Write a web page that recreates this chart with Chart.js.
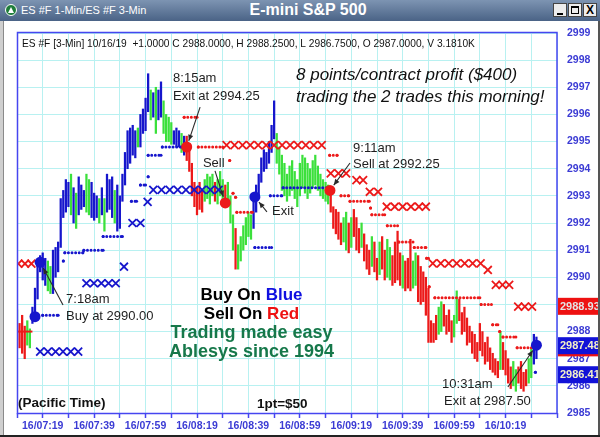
<!DOCTYPE html>
<html>
<head>
<meta charset="utf-8">
<script src="https://cdn.jsdelivr.net/npm/chart.js@4.4.0/dist/chart.umd.min.js"></script>
<style>
html,body{margin:0;padding:0;background:#fff;overflow:hidden;}
#win{position:relative;width:600px;height:437px;background:#fff;overflow:hidden;font-family:"Liberation Sans",Arial,sans-serif;}
#chart{position:absolute;left:0;top:0;}
#title{position:absolute;left:0;top:0;width:600px;height:21px;background:linear-gradient(#7d94b2,#4a6386);color:#fff;}
#title .left{position:absolute;left:21px;top:4px;font-size:11px;}
#title .center{position:absolute;left:0;width:600px;top:1px;text-align:center;font-size:16px;font-weight:bold;padding-left:16px;box-sizing:border-box;}
#icon{position:absolute;left:5px;top:4px;width:12px;height:12px;border-radius:50%;background:#1e7d3a;border:1px solid #fff;box-sizing:border-box;}
#icon:after{content:"";position:absolute;left:2px;top:2px;border-left:3px solid transparent;border-right:3px solid transparent;border-bottom:6px solid #fff;}
.btn{position:absolute;top:3px;width:14px;height:14px;background:#ececec;border:1px solid #444;box-sizing:border-box;color:#000;}
.btn.min:after{content:"";position:absolute;left:3px;top:9px;width:6px;height:2px;background:#000;}
.btn.max:after{content:"";position:absolute;left:2px;top:2px;width:8px;height:8px;border:1px solid #000;border-top-width:2px;box-sizing:border-box;}
.btn.cls{font:bold 12px "Liberation Sans",Arial,sans-serif;line-height:12px;text-align:center;}
#edgeL{position:absolute;left:0;top:21px;width:3px;height:416px;background:#cfcfcf;border-right:1px solid #8a8a8a;}
#edgeB{position:absolute;left:0;top:435px;width:600px;height:2px;background:#222;}
#edgeR{position:absolute;left:598px;top:21px;width:2px;height:416px;background:#555;}
</style>
</head>
<body>
<div id="win">
  <canvas id="chart" width="600" height="437"></canvas>
  <div id="title">
    <div id="icon"></div>
    <div class="left">ES #F 1-Min/ES #F 3-Min</div>
    <div class="center">E-mini S&amp;P 500</div>
    <div class="btn min" style="left:553px"></div>
    <div class="btn max" style="left:568px"></div>
    <div class="btn cls" style="left:583px">X</div>
  </div>
  <div id="edgeL"></div>
  <div id="edgeR"></div>
  <div id="edgeB"></div>
</div>
<script>
// ---------- DATA ----------
// time axis: minutes after midnight (Pacific). first 1-min bar at 07:09
const barStart = 429;
const barHigh = [
 2988.8,2988.3,2988.6,2988.2,2988.4,2988.1, 2988.9,2989.6,2990.5,2990.8,2990.9,2990.7,
 2990.6,2990.4,2991.0,2991.1,2991.3,2992.9, 2993.2,2993.6,2993.5,2993.8,2993.3,2993.1,
 2993.7,2993.4,2993.2,2993.8,2993.6,2993.5, 2993.1,2993.0,2992.9,2993.3,2992.9,2993.8,
 2993.6,2993.7,2993.2,2993.4,2993.0,2993.8, 2994.6,2995.4,2995.5,2995.6,2995.4,2995.5,
 2996.0,2996.2,2996.6,2997.5,2996.9,2996.8, 2997.0,2996.9,2997.2,2996.5,2996.0,2995.9,
 2995.7,2995.4,2995.5,2995.4,2995.3,2995.2, 2995.2,2994.9,2994.2,2993.5,2993.3,2993.5,
 2993.2,2993.6,2993.8,2993.7,2993.8,2993.5, 2993.6,2993.9,2993.6,2993.4,2993.5,2993.0,
 2992.3,2991.8,2991.2,2991.5,2991.9,2992.2, 2992.4,2992.3,2993.0,2993.4,2993.8,2994.4,
 2994.7,2994.6,2995.0,2995.6,2996.5,2995.3, 2994.8,2994.5,2994.2,2993.8,2994.1,2994.3,
 2993.9,2993.6,2994.2,2994.5,2994.4,2994.2, 2994.0,2994.3,2994.5,2994.1,2993.8,2993.6,
 2993.5,2993.4,2993.2,2992.6,2992.5,2992.4, 2992.0,2992.2,2992.4,2992.0,2992.2,2992.5,
 2992.2,2991.8,2992.0,2991.6,2991.2,2991.0, 2991.5,2991.3,2990.7,2991.3,2991.5,2991.0,
 2991.4,2991.1,2990.8,2991.3,2991.7,2990.9, 2990.8,2990.6,2990.7,2991.4,2990.6,2990.9,
 2990.8,2990.4,2990.2,2990.0,2989.6,2988.4, 2988.3,2988.6,2988.9,2989.1,2989.0,2988.6,
 2988.8,2988.4,2988.6,2989.5,2989.2,2988.7, 2988.9,2988.5,2988.2,2988.0,2987.9,2987.6,
 2988.3,2988.0,2987.6,2987.8,2987.4,2987.2, 2987.0,2986.9,2988.0,2987.6,2987.3,2987.0,
 2986.7,2986.9,2986.6,2986.7,2986.9,2986.5, 2986.6,2987.0,2987.4,2987.9,2987.8
];
const barLow = [
 2987.7,2987.4,2987.2,2987.0,2987.5,2987.4, 2988.3,2988.6,2989.2,2990.2,2989.9,2989.7,
 2989.5,2989.4,2989.4,2990.0,2990.2,2991.1, 2992.2,2992.4,2992.6,2992.3,2992.0,2991.8,
 2992.3,2992.5,2992.6,2992.4,2992.3,2992.2, 2992.1,2992.2,2992.0,2992.3,2991.7,2992.4,
 2992.5,2992.2,2992.0,2991.7,2991.8,2992.8, 2993.4,2994.0,2994.2,2994.5,2994.4,2994.8,
 2994.8,2995.3,2995.4,2996.1,2995.8,2995.9, 2995.3,2995.8,2995.9,2995.3,2995.0,2995.0,
 2994.9,2994.9,2994.8,2994.8,2994.6,2994.5, 2994.3,2993.9,2993.0,2992.6,2992.3,2992.5,
 2992.4,2992.8,2992.9,2992.7,2993.0,2992.8, 2992.7,2993.0,2992.8,2992.7,2992.6,2992.0,
 2991.0,2990.3,2990.3,2990.6,2991.0,2991.2, 2991.5,2991.4,2991.8,2992.4,2993.0,2993.5,
 2993.9,2994.0,2994.2,2994.6,2995.1,2994.2, 2993.8,2993.2,2993.0,2992.8,2993.0,2993.2,
 2992.9,2992.6,2993.0,2993.3,2993.1,2992.9, 2993.1,2993.3,2993.4,2993.2,2993.0,2992.9,
 2992.8,2992.7,2992.4,2991.8,2991.6,2991.4, 2991.2,2991.3,2991.0,2990.9,2991.1,2991.5,
 2991.0,2990.9,2991.1,2990.6,2990.3,2990.1, 2990.4,2990.2,2989.9,2990.1,2990.3,2989.9,
 2990.0,2989.9,2989.7,2989.8,2989.9,2989.7, 2989.6,2989.5,2989.6,2989.5,2989.6,2989.7,
 2989.1,2989.0,2989.1,2988.6,2987.6,2987.6, 2987.6,2987.7,2987.9,2988.0,2988.2,2987.9,
 2988.0,2987.6,2987.8,2988.3,2988.4,2987.9, 2988.0,2987.5,2987.6,2987.2,2987.0,2986.9,
 2987.3,2987.1,2986.8,2986.9,2986.6,2986.5, 2986.4,2986.3,2986.6,2986.6,2986.4,2986.1,
 2985.9,2986.0,2985.8,2986.1,2985.9,2985.8, 2986.0,2986.1,2986.3,2986.8,2987.0
];
// b = buy (blue), g = neutral (green), r = sell (red)
const barColor = [
 "grrrgg","bbbbbb","gg","bbbbbbb","g","b","g","bbb","gg","bbb","g","b","g","bbb","g",
 "bbbbbbbb","g","bbbb","g","b","g","bb","gggg","bbb","g","b","rrrrrrr","gggg","r","ggg",
 "r","ggg","r","gggggg","bbbbbbbbb","ggggggggggggggggggggg","rrrrr","gg","r","g","rrr",
 "g","rrr","g","rr","g","rr","gg","rrrr","g","rrr","gg","rrrrrrrr","gg","rrrr","gg",
 "rrrrrrrrrrrrrrrr","g","rrrr","gg","rrrr","gg","bb"
].join("").split("");

// trailing stop dot rows: [from minute, to minute, price]
const blueStops = [
 [439,445,2988.6],[447,447,2990.6],[447.6,454.6,2990.9],[455,462.5,2991.0],[462.5,470,2991.5],
 [473.5,475.5,2992.8],[477,479,2993.4],[480,480,2993.7],[480,485,2994.5],[485.5,493,2994.8],
 [521.5,528,2991.1],[527.5,532,2993.0],[532.5,550,2993.3],[630.6,630.6,2986.5]
];
const redStops = [
 [494,499,2995.9],[499.5,509,2994.8],[511.7,511.7,2994.3],[513,513,2993.1],[514,514,2992.95],
 [514.5,520.5,2992.4],[550.6,553.5,2994.5],[555,558,2993.0],[558.5,566,2992.8],[566.5,566.5,2992.55],
 [567,572,2992.3],[573,577,2991.9],[577.5,583,2991.3],[583.5,588,2991.1],[588.3,589,2990.7],
 [589.3,589.3,2989.65],[591.5,609,2989.25],[609.5,613.5,2989.0],[614,616,2988.25],[616.7,616.7,2988.0],
 [618,623,2987.8],[623.5,629,2987.4]
];
const redLevelLine = [[429,2988.0],[435,2988.0]];

// X markers: [minute, price]
const blueX = [
 [438,2987.26],[441,2987.26],[444,2987.26],[446.9,2987.26],[449.9,2987.26],[452.8,2987.26],
 [456,2989.78],[458.9,2989.78],[461.8,2989.78],[464.6,2989.78],[467.4,2989.78],
 [470.6,2990.39],[473.9,2992.0],[477,2992.0],[479.8,2992.78],
 [482,2993.22],[485.2,2993.22],[488.4,2993.22],[491.5,2993.22],[494.7,2993.22],
 [497.9,2993.22],[501,2993.22],[504.2,2993.22],[507.4,2993.22]
];
const redX = [
 [429.5,2990.5],[432.1,2990.5],[434.6,2990.5],
 [510.5,2994.87],[513.6,2994.87],[516.7,2994.87],[519.7,2994.87],[522.8,2994.87],[525.9,2994.87],
 [529,2994.87],[532.1,2994.87],[535.2,2994.87],[538.2,2994.87],[541.3,2994.87],[544.4,2994.87],[547.5,2994.87],
 [551,2993.83],[554,2993.83],[557,2993.83],[561,2993.58],[563.6,2993.58],[566.2,2993.15],[569.4,2993.15],
 [572.8,2992.6],[575.9,2992.6],[579,2992.6],[582.2,2992.6],[585.3,2992.6],[588,2992.6],
 [590.7,2990.51],[593.8,2990.51],[596.9,2990.51],[600,2990.51],[603.1,2990.51],[606.2,2990.51],[609.3,2990.51],
 [612.1,2990.27],[615.2,2989.72],[617.8,2989.72],[620.4,2989.72],
 [623.9,2988.92],[626.5,2988.92],[629.3,2988.92]
];
// trade signal dots: [minute, price, colour]
const signalDots = [
 [436,2988.55,"b"],[438,2990.55,"b"],[495,2994.8,"r"],[510,2992.74,"r"],
 [521.5,2992.96,"b"],[550.7,2993.2,"r"],[631,2987.5,"b"]
];
// price tags on the right axis
const priceTags = [[2988.93,"r"],[2987.40,"r"],[2987.48,"b"],[2986.41,"b"]];

// axis ticks
const xTickMinutes = [429,439,449,459,469,479,489,499,509,519,529,539,549,559,569,579,589,599,609,619,629,639];
const xLabelMinutes = [439,459,479,499,519,539,559,579,599,619];
const xLabelText = ["16/07:19","16/07:39","16/07:59","16/08:19","16/08:39","16/08:59","16/09:19","16/09:39","16/09:59","16/10:19"];
const yMin = 2985, yMax = 2999;

// annotation texts: [text, minute, price]
const notes = [
 ["7:18am",448.1,2989.20],["Buy at 2990.00",448.1,2988.57],
 ["8:15am",489.7,2997.34],["Exit at 2994.25",489.7,2996.68],
 ["Sell",501.3,2994.21],["Exit",528.2,2992.41],
 ["9:11am",559.7,2994.76],["Sell at 2992.25",559.7,2994.14],
 ["10:31am",594.3,2986.07],["Exit at 2987.50",595.1,2985.44]
];
// arrows: [from minute, from price, to minute, to price]
const arrows = [
 [446.9,2988.98,438,2990.55],[500.2,2996.27,495,2994.8],[506.0,2993.92,510,2992.74],
 [526.2,2992.41,521.5,2992.96],[558.5,2994.21,550.7,2993.2],[619.9,2985.96,631,2987.5]
];
const headerText = "ES #F [3-Min] 10/16/19  +1.0000 C 2988.0000, H 2988.2500, L 2986.7500, O 2987.0000, V 3.1810K";

// ---------- STYLE ----------
const COL = {b:"#1616cc", g:"#3be03b", r:"#ec1a1a"};
const FRAME = "#4646f0";
const AXIS_TXT = "#3b3bd4";
const GRID = "#b8f1f1";
const FONT = '"Liberation Sans", Arial, sans-serif';

function stopsData(stops){
  const d = [];
  stops.forEach(s => { d.push({x:s[0],y:s[2]},{x:s[1],y:s[2]},{x:s[1]+0.01,y:null}); });
  return d;
}
const pts = arr => arr.map(p => ({x:p[0], y:p[1]}));

const datasets = [
 {type:"line", data: signalDots.map(p=>({x:p[0],y:p[1]})), showLine:false, pointRadius:5.5,
  pointBackgroundColor: signalDots.map(p=>COL[p[2]]), pointBorderWidth:0, order:-2},
 {type:"line", data: pts(blueX), showLine:false, pointStyle:"crossRot", pointRadius:5.6,
  pointBorderColor:COL.b, pointBorderWidth:1.8, order:-1},
 {type:"line", data: pts(redX), showLine:false, pointStyle:"crossRot", pointRadius:5.6,
  pointBorderColor:COL.r, pointBorderWidth:1.8, order:-1},
 {type:"line", data: stopsData(blueStops), borderColor:COL.b, borderWidth:3, borderDash:[0,3.6],
  borderCapStyle:"round", pointRadius:1.5, pointBackgroundColor:COL.b, pointBorderWidth:0, spanGaps:false, order:0},
 {type:"line", data: stopsData(redStops), borderColor:COL.r, borderWidth:3, borderDash:[0,3.6],
  borderCapStyle:"round", pointRadius:1.5, pointBackgroundColor:COL.r, pointBorderWidth:0, spanGaps:false, order:0},
 {type:"line", data: pts(redLevelLine), borderColor:COL.r, borderWidth:2, pointRadius:0, order:0},
 {type:"bar", data: barHigh.map((h,i)=>({x:barStart+i, y:[barLow[i], h]})),
  backgroundColor: barColor.map(c=>COL[c]), borderWidth:0, barThickness:1.6, order:5}
];

const overlay = {
  id:"overlay",
  afterDraw(chart){
    const {ctx, chartArea:a, scales:{x, y}} = chart;
    const X = m => x.getPixelForValue(m), Y = p => y.getPixelForValue(p);
    ctx.save();
    // frame
    ctx.strokeStyle = FRAME; ctx.lineWidth = 1.5;
    ctx.strokeRect(a.left + 0.5, a.top - 0.5, a.right - a.left - 0.5, a.bottom - a.top + 1);
    // header
    ctx.fillStyle = "#111"; ctx.font = "10.2px " + FONT; ctx.textBaseline = "middle"; ctx.textAlign = "left";
    ctx.fillText(headerText, a.left + 5, a.top + 11);
    // price tags
    priceTags.forEach(t => {
      const py = Y(t[0]);
      ctx.fillStyle = t[1] === "r" ? "#ee1111" : "#1212d8";
      ctx.fillRect(a.right + 1, py - 8.5, 50, 17);
      ctx.fillStyle = t[1] === "r" ? "#e4e4e4" : "#f2f0c8";
      ctx.font = "bold 11px " + FONT;
      ctx.fillText(t[0].toFixed(2), a.right + 3, py + 0.5);
    });
    // annotation texts
    ctx.fillStyle = "#1e1e1e"; ctx.font = "13px " + FONT;
    notes.forEach(n => ctx.fillText(n[0], X(n[1]), Y(n[2])));
    // arrows
    ctx.strokeStyle = "#2a2a2a"; ctx.fillStyle = "#2a2a2a"; ctx.lineWidth = 1.1;
    arrows.forEach(ar => {
      const x1 = X(ar[0]), y1 = Y(ar[1]), x2 = X(ar[2]), y2 = Y(ar[3]);
      const ang = Math.atan2(y2 - y1, x2 - x1), c = Math.cos(ang), s = Math.sin(ang);
      const ex = x2 - c * 6.5, ey = y2 - s * 6.5;
      ctx.beginPath(); ctx.moveTo(x1, y1); ctx.lineTo(ex, ey); ctx.stroke();
      ctx.beginPath(); ctx.moveTo(ex, ey);
      ctx.lineTo(ex - c * 6 + s * 2.6, ey - s * 6 - c * 2.6);
      ctx.lineTo(ex - c * 6 - s * 2.6, ey - s * 6 + c * 2.6);
      ctx.closePath(); ctx.fill();
    });
    // headline
    ctx.fillStyle = "#111"; ctx.font = "italic 17px " + FONT;
    ctx.fillText("8 points/contract profit ($400)", X(537.5), Y(2997.45));
    ctx.fillText("trading the 2 trades this morning!", X(537.5), Y(2996.64));
    // centre block
    const cx = X(520.2);
    function twoTone(a1, c1, a2, c2, py){
      ctx.font = "bold 17px " + FONT;
      const w1 = ctx.measureText(a1).width, w2 = ctx.measureText(a2).width;
      const sx = cx - (w1 + w2) / 2;
      ctx.textAlign = "left";
      ctx.fillStyle = c1; ctx.fillText(a1, sx, py);
      ctx.fillStyle = c2; ctx.fillText(a2, sx + w1, py);
    }
    twoTone("Buy On ", "#000", "Blue", "#1010e0", Y(2989.35));
    twoTone("Sell On ", "#000", "Red", "#ee1111", Y(2988.65));
    ctx.textAlign = "center"; ctx.fillStyle = "#16784a"; ctx.font = "bold 18px " + FONT;
    ctx.fillText("Trading made easy", cx, Y(2987.95));
    ctx.fillText("Ablesys since 1994", cx, Y(2987.25));
    ctx.textAlign = "left"; ctx.fillStyle = "#111"; ctx.font = "bold 13.5px " + FONT;
    ctx.fillText("(Pacific Time)", X(429.4), Y(2985.37));
    ctx.fillText("1pt=$50", X(522.3), Y(2985.33));
    ctx.restore();
  }
};

new Chart(document.getElementById("chart"), {
  type: "bar",
  data: { datasets },
  options: {
    responsive: false, animation: false, devicePixelRatio: 1,
    layout: { padding: { left: 17, top: 33, right: 0, bottom: 0 } },
    plugins: { legend: { display: false }, tooltip: { enabled: false } },
    scales: {
      x: {
        type: "linear", min: 429, max: 639, offset: false,
        afterBuildTicks: s => { s.ticks = xTickMinutes.map(v => ({ value: v })); },
        afterFit: s => { s.height = 24; },
        ticks: {
          autoSkip: false, maxRotation: 0, padding: 2, color: AXIS_TXT,
          font: { family: FONT, size: 10.5, weight: "bold" },
          callback: v => { const i = xLabelMinutes.indexOf(v); return i >= 0 ? xLabelText[i] : ""; }
        },
        grid: { color: GRID, offset: false, drawTicks: true, tickLength: 5, tickColor: FRAME, tickWidth: 1.5 },
        border: { display: false }
      },
      y: {
        position: "right", min: yMin, max: yMax,
        afterFit: s => { s.width = 43; },
        ticks: {
          stepSize: 1, padding: 10, color: AXIS_TXT,
          font: { family: FONT, size: 10.5, weight: "bold" },
          callback: v => String(v)
        },
        grid: { color: GRID, drawTicks: false },
        border: { display: false }
      }
    }
  },
  plugins: [overlay]
});
</script>
</body>
</html>
